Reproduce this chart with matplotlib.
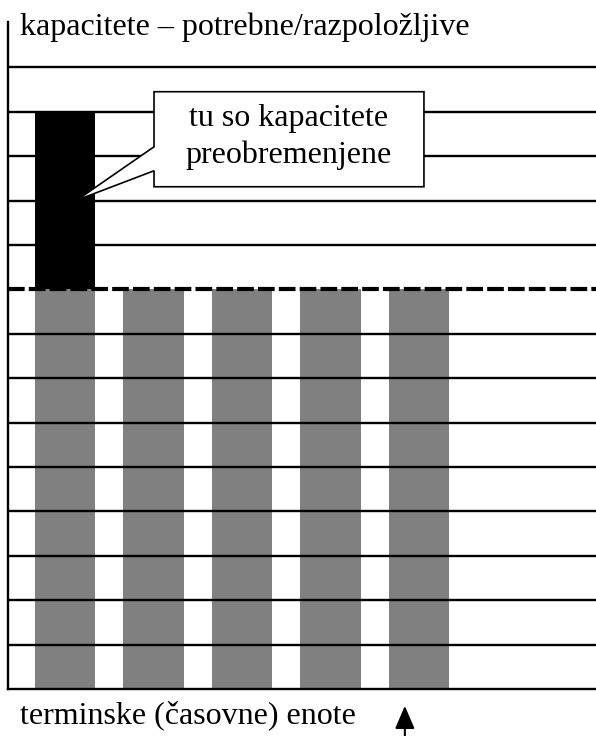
import matplotlib
matplotlib.use('Agg')
import matplotlib.pyplot as plt
from matplotlib.patches import Polygon

plt.rcParams['font.family'] = ['Liberation Serif', 'DejaVu Serif']

# data: required capacity per time unit vs. available capacity
units = [0, 1, 2, 3, 4]
required = [13, 9, 9, 9, 9]
available = 9
grid_levels = [1, 2, 3, 4, 5, 6, 7, 8, 10, 11, 12, 13, 14]

title_text = 'kapacitete \u2013 potrebne/razpolo\u017eljive'
xlabel_text = 'terminske (\u010dasovne) enote'
note_text = 'tu so kapacitete\npreobremenjene'

fig = plt.figure(figsize=(5.96, 7.36), dpi=100)
ax = fig.add_axes([8 / 596, 47 / 736, 588 / 596, 667 / 736])

# bars: gray up to available capacity, black for overload
bar_w = 0.68
base = [min(r, available) for r in required]
over = [max(r - available, 0) for r in required]
ax.bar(units, base, width=bar_w, color='#808080', zorder=1)
ax.bar(units, over, bottom=base, width=bar_w, color='black', zorder=1)

# horizontal lines
for lv in grid_levels:
    ax.axhline(lv, color='black', lw=1.7, zorder=2)
ax.axhline(available, color='black', lw=3, ls=(0, (4, 1)), zorder=2)

ax.set_xlim(-0.644, 6.0)
ax.set_ylim(0, 15.02)
ax.set_xticks([])
ax.set_yticks([])
for s in ['top', 'right']:
    ax.spines[s].set_visible(False)
ax.spines['left'].set_linewidth(1.7)
ax.spines['bottom'].set_linewidth(1.7)

# callout box
x0, x1, y0, y1 = 1.006, 4.056, 11.31, 13.45
callout = Polygon([(x0, y1), (x1, y1), (x1, y0), (x0, y0),
                   (x0, 11.67), (0.136, 11.01), (x0, 12.21)],
                  closed=True, facecolor='white', edgecolor='black', lw=1.2, zorder=5)
ax.add_patch(callout)
ax.text((x0 + x1) / 2, (y0 + y1) / 2 + 0.05, note_text, ha='center', va='center',
        fontsize=23, linespacing=1.3, zorder=6)

# arrow under the last time unit
ax.annotate('', xy=(3.84, -0.38), xytext=(3.84, -1.15),
            arrowprops=dict(arrowstyle='-|>,head_length=1.4,head_width=0.6',
                            color='black', lw=1.5, shrinkA=0, shrinkB=0),
            annotation_clip=False)

fig.text(20 / 596, 1 - 35 / 736, title_text, fontsize=23, va='baseline')
fig.text(20 / 596, 1 - 723 / 736, xlabel_text, fontsize=23, va='baseline')

fig.savefig('out.png', dpi=100)
